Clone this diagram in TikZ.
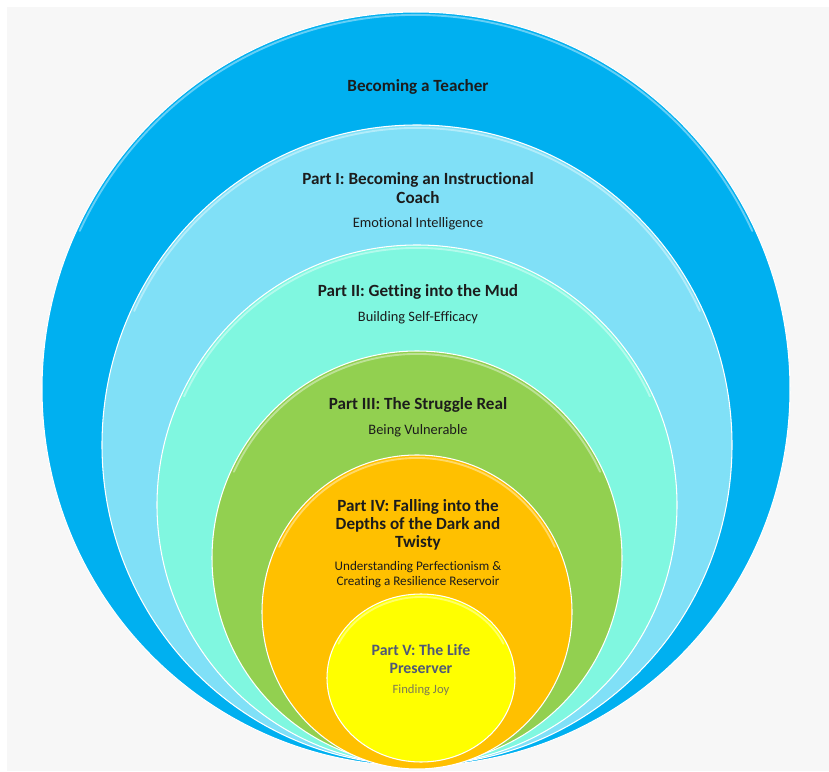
\documentclass[tikz,border=0pt]{standalone}
\usepackage{fontspec}
\setmainfont{Carlito}[Ligatures=NoCommon]
\usetikzlibrary{positioning}
\definecolor{paper}{HTML}{F7F7F7}
\definecolor{teacher}{HTML}{00B0F0}
\definecolor{coach}{HTML}{80E0F7}
\definecolor{mud}{HTML}{80F7E0}
\definecolor{struggle}{HTML}{92D050}
\definecolor{twisty}{HTML}{FFC000}
\definecolor{preserver}{HTML}{FFFF00}
\definecolor{ink}{HTML}{1C1C1C}
\definecolor{slate}{HTML}{4F5877}
\definecolor{olive}{HTML}{7C7A55}

% light band along the top of a ring: centre x, centre y, x radius, y radius
\newcommand{\rimarc}[4]{\draw[rim] ([shift={(#1,#2)}]25:{#3-3} and {#4-3}) arc [start angle=25, end angle=155, x radius=#3-3, y radius=#4-3];}

\begin{document}
\begin{tikzpicture}[x=0.3mm,y=0.3mm,
		ring/.style = {draw=white, line width=0.9pt},
		rim/.style = {white, opacity=0.4, line width=1.6pt, line cap=round},
		title/.style = {font=\fontsize{14.6}{15.6}\selectfont\bfseries, align=center, text=ink, inner sep=0pt},
		sub/.style = {font=\fontsize{12.3}{14}\selectfont, align=center, text=ink, inner sep=0pt}]
		\useasboundingbox (0,0) rectangle (829,771);
		\fill[white] (0,0) rectangle (829,771);
		\fill[paper] (7,0) rectangle (829,764);
		\filldraw[ring, fill=teacher] (416,382) ellipse [x radius=374, y radius=377];
		\rimarc{416}{382}{374}{377}
		\filldraw[ring, fill=coach] (417,326) ellipse [x radius=315, y radius=320];
		\rimarc{417}{326}{315}{320}
		\filldraw[ring, fill=mud] (417,266) ellipse [x radius=260, y radius=260];
		\rimarc{417}{266}{260}{260}
		\filldraw[ring, fill=struggle] (417,213) ellipse [x radius=205, y radius=207];
		\rimarc{417}{213}{205}{207}
		\filldraw[ring, fill=twisty] (417,159) ellipse [x radius=155, y radius=157];
		\rimarc{417}{159}{155}{157}
		\filldraw[ring, fill=preserver] (421,93) ellipse [x radius=94, y radius=84];
		\rimarc{421}{93}{94}{84}
		\node[title] (t0) at (418,684) {Becoming a Teacher};
		\node[title] (t1) at (418,583) {Part I: Becoming an Instructional\\Coach};
		\node[sub] (s1) [below=4mm of t1] {Emotional Intelligence};
		\node[title] (t2) at (418,479) {Part II: Getting into the Mud};
		\node[sub] (s2) [below=3.4mm of t2] {Building Self-Efficacy};
		\node[title] (t3) at (418,366) {Part III: The Struggle Real};
		\node[sub] (s3) [below=3.6mm of t3] {Being Vulnerable};
		\node[title] (t4) at (418,246) {Part IV: Falling into the\\Depths of the Dark and\\Twisty};
		\node[sub, font=\fontsize{11.2}{12.6}\selectfont] (s4) [below=3.2mm of t4] {Understanding Perfectionism \&\\Creating a Resilience Reservoir};
		\node[title, text=slate, font=\fontsize{13.5}{15.6}\selectfont\bfseries] (t5) at (421,112) {Part V: The Life\\Preserver};
		\node[sub, text=olive, font=\fontsize{10.8}{12}\selectfont] (s5) [below=3.2mm of t5] {Finding Joy};
	\end{tikzpicture}
\end{document}
